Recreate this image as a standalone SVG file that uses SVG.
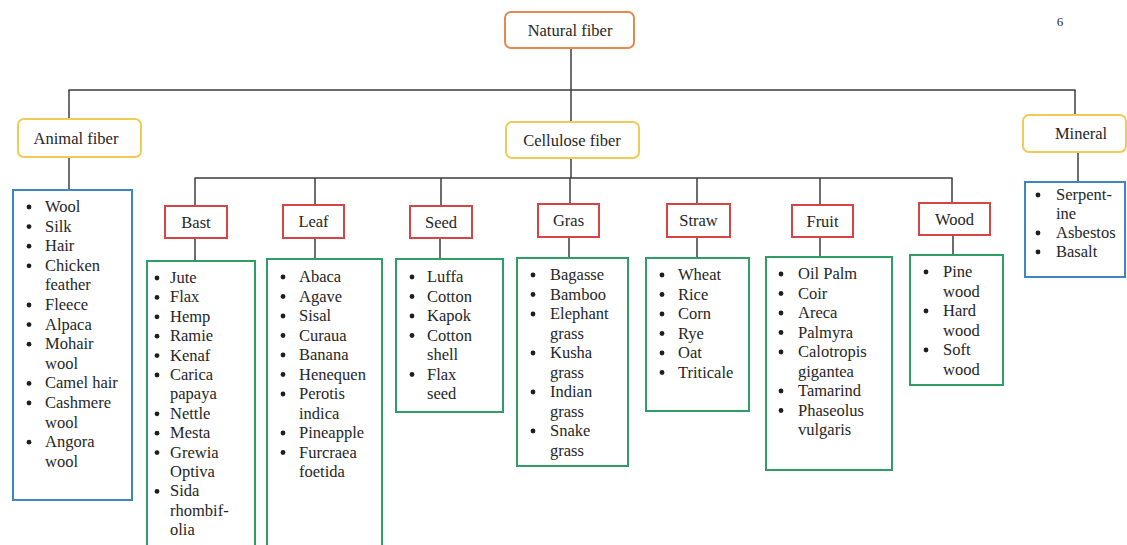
<svg xmlns="http://www.w3.org/2000/svg" width="1127" height="545" viewBox="0 0 1127 545" font-family="'Liberation Serif', 'Times New Roman', serif">
<style>
  text { font-size: 16.5px; fill: #262626; }
  .c { text-anchor: middle; }
  .orange { fill: #fff; stroke: #e58a4e; stroke-width: 2; }
  .yellow { fill: #fff; stroke: #f1cb55; stroke-width: 2; }
  .red { fill: #fff; stroke: #d64545; stroke-width: 2; }
  .blue { fill: #fff; stroke: #3d86c4; stroke-width: 2; }
  .green { fill: #fff; stroke: #2f9e66; stroke-width: 2; }
  .conn line { stroke: #3c3c3c; stroke-width: 1.5; }
  .b { fill: #1e1e1e; }
</style>
<rect width="1127" height="545" fill="#fff"/>

<g class="conn" id="connectors">
  <line x1="571" y1="48" x2="571" y2="90"/>
  <line x1="68.5" y1="90" x2="1075.5" y2="90"/>
  <line x1="69" y1="90" x2="69" y2="119"/>
  <line x1="571" y1="90" x2="571" y2="122"/>
  <line x1="1075" y1="90" x2="1075" y2="115"/>
  <line x1="69" y1="157" x2="69" y2="190"/>
  <line x1="1078" y1="152" x2="1078" y2="182"/>
  <line x1="571" y1="158" x2="571" y2="178"/>
  <line x1="194.5" y1="178" x2="952.5" y2="178"/>
  <line x1="195" y1="178" x2="195" y2="206"/>
  <line x1="315" y1="178" x2="315" y2="205"/>
  <line x1="441" y1="178" x2="441" y2="206"/>
  <line x1="570" y1="178" x2="570" y2="204"/>
  <line x1="697" y1="178" x2="697" y2="204"/>
  <line x1="820" y1="178" x2="820" y2="205"/>
  <line x1="952" y1="178" x2="952" y2="203"/>
  <line x1="195" y1="238" x2="195" y2="261"/>
  <line x1="315" y1="238" x2="315" y2="259"/>
  <line x1="440" y1="238" x2="440" y2="259"/>
  <line x1="569" y1="237" x2="569" y2="258"/>
  <line x1="697" y1="237" x2="697" y2="258"/>
  <line x1="820" y1="237" x2="820" y2="257"/>
  <line x1="953" y1="235" x2="953" y2="255"/>
</g>

<text x="1060" y="26" class="c" style="font-size:13px">6</text>

<g id="natural">
  <rect class="orange" x="505" y="12" width="129" height="36" rx="6"/>
  <text x="570" y="36" class="c">Natural fiber</text>
</g>
<g id="animal">
  <rect class="yellow" x="18" y="119" width="123" height="38" rx="6"/>
  <text x="76" y="144" class="c">Animal fiber</text>
</g>
<g id="cellulose">
  <rect class="yellow" x="506" y="122" width="133" height="36" rx="6"/>
  <text x="572" y="146" class="c">Cellulose fiber</text>
</g>
<g id="mineral">
  <rect class="yellow" x="1023" y="115" width="103" height="37" rx="6"/>
  <text x="1081" y="139" class="c">Mineral</text>
</g>

<g id="animal-list">
  <rect class="blue" x="13" y="190" width="119" height="310"/>
  <text x="45" y="212"><tspan x="45">Wool</tspan><tspan x="45" dy="19.6">Silk</tspan><tspan x="45" dy="19.6">Hair</tspan><tspan x="45" dy="19.6">Chicken</tspan><tspan x="45" dy="19.6">feather</tspan><tspan x="45" dy="19.6">Fleece</tspan><tspan x="45" dy="19.6">Alpaca</tspan><tspan x="45" dy="19.6">Mohair</tspan><tspan x="45" dy="19.6">wool</tspan><tspan x="45" dy="19.6">Camel hair</tspan><tspan x="45" dy="19.6">Cashmere</tspan><tspan x="45" dy="19.6">wool</tspan><tspan x="45" dy="19.6">Angora</tspan><tspan x="45" dy="19.6">wool</tspan></text>
  <g class="b">
    <circle cx="29" cy="207" r="2.4"/><circle cx="29" cy="226.6" r="2.4"/><circle cx="29" cy="246.2" r="2.4"/><circle cx="29" cy="265.8" r="2.4"/><circle cx="29" cy="305" r="2.4"/><circle cx="29" cy="324.6" r="2.4"/><circle cx="29" cy="344.2" r="2.4"/><circle cx="29" cy="383.4" r="2.4"/><circle cx="29" cy="403" r="2.4"/><circle cx="29" cy="442.2" r="2.4"/>
  </g>
</g>

<g id="mineral-list">
  <rect class="blue" x="1025" y="182" width="100" height="95"/>
  <text x="1056" y="200"><tspan x="1056">Serpent-</tspan><tspan x="1056" dy="19">ine</tspan><tspan x="1056" dy="19">Asbestos</tspan><tspan x="1056" dy="19">Basalt</tspan></text>
  <g class="b"><circle cx="1038" cy="195" r="2.4"/><circle cx="1038" cy="233" r="2.4"/><circle cx="1038" cy="252" r="2.4"/></g>
</g>

<g id="bast">
  <rect class="red" x="165" y="206" width="62" height="32"/>
  <text x="196" y="228" class="c">Bast</text>
  <rect class="green" x="147" y="261" width="108" height="290"/>
  <text x="170" y="283"><tspan x="170">Jute</tspan><tspan x="170" dy="19.4">Flax</tspan><tspan x="170" dy="19.4">Hemp</tspan><tspan x="170" dy="19.4">Ramie</tspan><tspan x="170" dy="19.4">Kenaf</tspan><tspan x="170" dy="19.4">Carica</tspan><tspan x="170" dy="19.4">papaya</tspan><tspan x="170" dy="19.4">Nettle</tspan><tspan x="170" dy="19.4">Mesta</tspan><tspan x="170" dy="19.4">Grewia</tspan><tspan x="170" dy="19.4">Optiva</tspan><tspan x="170" dy="19.4">Sida</tspan><tspan x="170" dy="19.4">rhombif-</tspan><tspan x="170" dy="19.4">olia</tspan></text>
  <g class="b"><circle cx="157" cy="278" r="2.4"/><circle cx="157" cy="297.4" r="2.4"/><circle cx="157" cy="316.8" r="2.4"/><circle cx="157" cy="336.2" r="2.4"/><circle cx="157" cy="355.6" r="2.4"/><circle cx="157" cy="375" r="2.4"/><circle cx="157" cy="413.8" r="2.4"/><circle cx="157" cy="433.2" r="2.4"/><circle cx="157" cy="452.6" r="2.4"/><circle cx="157" cy="491.4" r="2.4"/></g>
</g>

<g id="leaf">
  <rect class="red" x="283" y="205" width="61" height="33"/>
  <text x="313.5" y="227" class="c">Leaf</text>
  <rect class="green" x="267" y="259" width="115" height="292"/>
  <text x="299" y="282"><tspan x="299">Abaca</tspan><tspan x="299" dy="19.5">Agave</tspan><tspan x="299" dy="19.5">Sisal</tspan><tspan x="299" dy="19.5">Curaua</tspan><tspan x="299" dy="19.5">Banana</tspan><tspan x="299" dy="19.5">Henequen</tspan><tspan x="299" dy="19.5">Perotis</tspan><tspan x="299" dy="19.5">indica</tspan><tspan x="299" dy="19.5">Pineapple</tspan><tspan x="299" dy="19.5">Furcraea</tspan><tspan x="299" dy="19.5">foetida</tspan></text>
  <g class="b"><circle cx="283" cy="277" r="2.4"/><circle cx="283" cy="296.5" r="2.4"/><circle cx="283" cy="316" r="2.4"/><circle cx="283" cy="335.5" r="2.4"/><circle cx="283" cy="355" r="2.4"/><circle cx="283" cy="374.5" r="2.4"/><circle cx="283" cy="394" r="2.4"/><circle cx="283" cy="433" r="2.4"/><circle cx="283" cy="452.5" r="2.4"/></g>
</g>

<g id="seed">
  <rect class="red" x="410" y="206" width="62" height="32"/>
  <text x="441" y="228" class="c">Seed</text>
  <rect class="green" x="396" y="259" width="107" height="153"/>
  <text x="427" y="282"><tspan x="427">Luffa</tspan><tspan x="427" dy="19.5">Cotton</tspan><tspan x="427" dy="19.5">Kapok</tspan><tspan x="427" dy="19.5">Cotton</tspan><tspan x="427" dy="19.5">shell</tspan><tspan x="427" dy="19.5">Flax</tspan><tspan x="427" dy="19.5">seed</tspan></text>
  <g class="b"><circle cx="412" cy="277" r="2.4"/><circle cx="412" cy="296.5" r="2.4"/><circle cx="412" cy="316" r="2.4"/><circle cx="412" cy="335.5" r="2.4"/><circle cx="412" cy="374.5" r="2.4"/></g>
</g>

<g id="gras">
  <rect class="red" x="538" y="204" width="61" height="33"/>
  <text x="568.5" y="226" class="c">Gras</text>
  <rect class="green" x="517" y="258" width="111" height="208"/>
  <text x="550" y="280"><tspan x="550">Bagasse</tspan><tspan x="550" dy="19.5">Bamboo</tspan><tspan x="550" dy="19.5">Elephant</tspan><tspan x="550" dy="19.5">grass</tspan><tspan x="550" dy="19.5">Kusha</tspan><tspan x="550" dy="19.5">grass</tspan><tspan x="550" dy="19.5">Indian</tspan><tspan x="550" dy="19.5">grass</tspan><tspan x="550" dy="19.5">Snake</tspan><tspan x="550" dy="19.5">grass</tspan></text>
  <g class="b"><circle cx="533" cy="275" r="2.4"/><circle cx="533" cy="294.5" r="2.4"/><circle cx="533" cy="314" r="2.4"/><circle cx="533" cy="353" r="2.4"/><circle cx="533" cy="392" r="2.4"/><circle cx="533" cy="431" r="2.4"/></g>
</g>

<g id="straw">
  <rect class="red" x="667" y="204" width="63" height="33"/>
  <text x="698.5" y="226" class="c">Straw</text>
  <rect class="green" x="646" y="258" width="103" height="153"/>
  <text x="678" y="280"><tspan x="678">Wheat</tspan><tspan x="678" dy="19.5">Rice</tspan><tspan x="678" dy="19.5">Corn</tspan><tspan x="678" dy="19.5">Rye</tspan><tspan x="678" dy="19.5">Oat</tspan><tspan x="678" dy="19.5">Triticale</tspan></text>
  <g class="b"><circle cx="662" cy="275" r="2.4"/><circle cx="662" cy="294.5" r="2.4"/><circle cx="662" cy="314" r="2.4"/><circle cx="662" cy="333.5" r="2.4"/><circle cx="662" cy="353" r="2.4"/><circle cx="662" cy="372.5" r="2.4"/></g>
</g>

<g id="fruit">
  <rect class="red" x="792" y="205" width="61" height="32"/>
  <text x="822.5" y="227" class="c">Fruit</text>
  <rect class="green" x="766" y="257" width="126" height="213"/>
  <text x="798" y="279"><tspan x="798">Oil Palm</tspan><tspan x="798" dy="19.5">Coir</tspan><tspan x="798" dy="19.5">Areca</tspan><tspan x="798" dy="19.5">Palmyra</tspan><tspan x="798" dy="19.5">Calotropis</tspan><tspan x="798" dy="19.5">gigantea</tspan><tspan x="798" dy="19.5">Tamarind</tspan><tspan x="798" dy="19.5">Phaseolus</tspan><tspan x="798" dy="19.5">vulgaris</tspan></text>
  <g class="b"><circle cx="781" cy="274" r="2.4"/><circle cx="781" cy="293.5" r="2.4"/><circle cx="781" cy="313" r="2.4"/><circle cx="781" cy="332.5" r="2.4"/><circle cx="781" cy="352" r="2.4"/><circle cx="781" cy="391" r="2.4"/><circle cx="781" cy="410.5" r="2.4"/></g>
</g>

<g id="wood">
  <rect class="red" x="919" y="203" width="71" height="32"/>
  <text x="954.5" y="225" class="c">Wood</text>
  <rect class="green" x="910" y="255" width="93" height="130"/>
  <text x="943" y="277"><tspan x="943">Pine</tspan><tspan x="943" dy="19.5">wood</tspan><tspan x="943" dy="19.5">Hard</tspan><tspan x="943" dy="19.5">wood</tspan><tspan x="943" dy="19.5">Soft</tspan><tspan x="943" dy="19.5">wood</tspan></text>
  <g class="b"><circle cx="926" cy="272" r="2.4"/><circle cx="926" cy="311" r="2.4"/><circle cx="926" cy="350" r="2.4"/></g>
</g>
</svg>
